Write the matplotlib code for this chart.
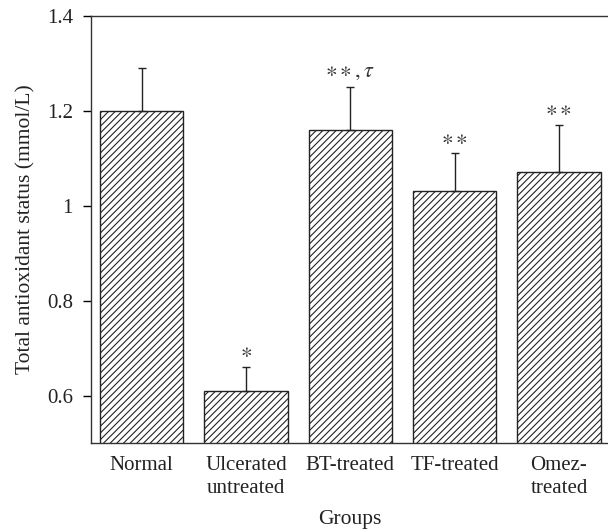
import numpy as np
import matplotlib.pyplot as plt

groups = ["Normal", "Ulcerated\nuntreated", "BT-treated", "TF-treated", "Omez-\ntreated"]
tas_mean = [1.20, 0.61, 1.16, 1.03, 1.07]
tas_err = [0.09, 0.05, 0.09, 0.08, 0.10]
marks = ["", r"$\ast$", r"$\ast\ast, \tau$", r"$\ast\ast$", r"$\ast\ast$"]

plt.rcParams['font.family'] = ['Liberation Serif', 'DejaVu Serif']
plt.rcParams['mathtext.fontset'] = 'stix'
plt.rcParams['hatch.linewidth'] = 0.8

fig = plt.figure(figsize=(6.08, 5.31), dpi=100)
ax = fig.add_axes([0.1497, 0.1657, 0.8503, 0.8051])

x = np.arange(len(groups))
ax.bar(x, tas_mean, width=0.8, color='white', edgecolor='#222222',
       linewidth=1.0, hatch='/////', zorder=2)
ax.errorbar(x, tas_mean, yerr=[np.zeros(len(x)), tas_err], fmt='none',
            ecolor='#222222', elinewidth=1.0, capsize=3, capthick=1.0, zorder=3)

for xi, m, e, s in zip(x, tas_mean, tas_err, marks):
    if s:
        ax.text(xi, m + e + 0.01, s, ha='center', va='bottom', fontsize=16, color='#333333')

ax.set_xlim(-0.485, 4.47)
ax.set_ylim(0.5, 1.4)
ax.set_yticks([0.6, 0.8, 1.0, 1.2, 1.4])
ax.set_yticklabels(["0.6", "0.8", "1", "1.2", "1.4"])
ax.set_xticks(x)
ax.set_xticklabels(groups, fontsize=15, linespacing=1.35, color='#222222')
ax.tick_params(axis='x', length=0, pad=9)
ax.tick_params(axis='y', direction='out', length=6, width=1, labelsize=15, pad=7,
               labelcolor='#222222')
ax.spines['right'].set_visible(False)
for sp in ['left', 'top', 'bottom']:
    ax.spines[sp].set_linewidth(1.0)
    ax.spines[sp].set_color('#333333')

ax.set_xlabel("Groups", fontsize=15.5, labelpad=8, color='#222222')
ax.set_ylabel("Total antioxidant status (mmol/L)", fontsize=15.5, labelpad=8, color='#222222')

fig.savefig("out.png", dpi=100)
